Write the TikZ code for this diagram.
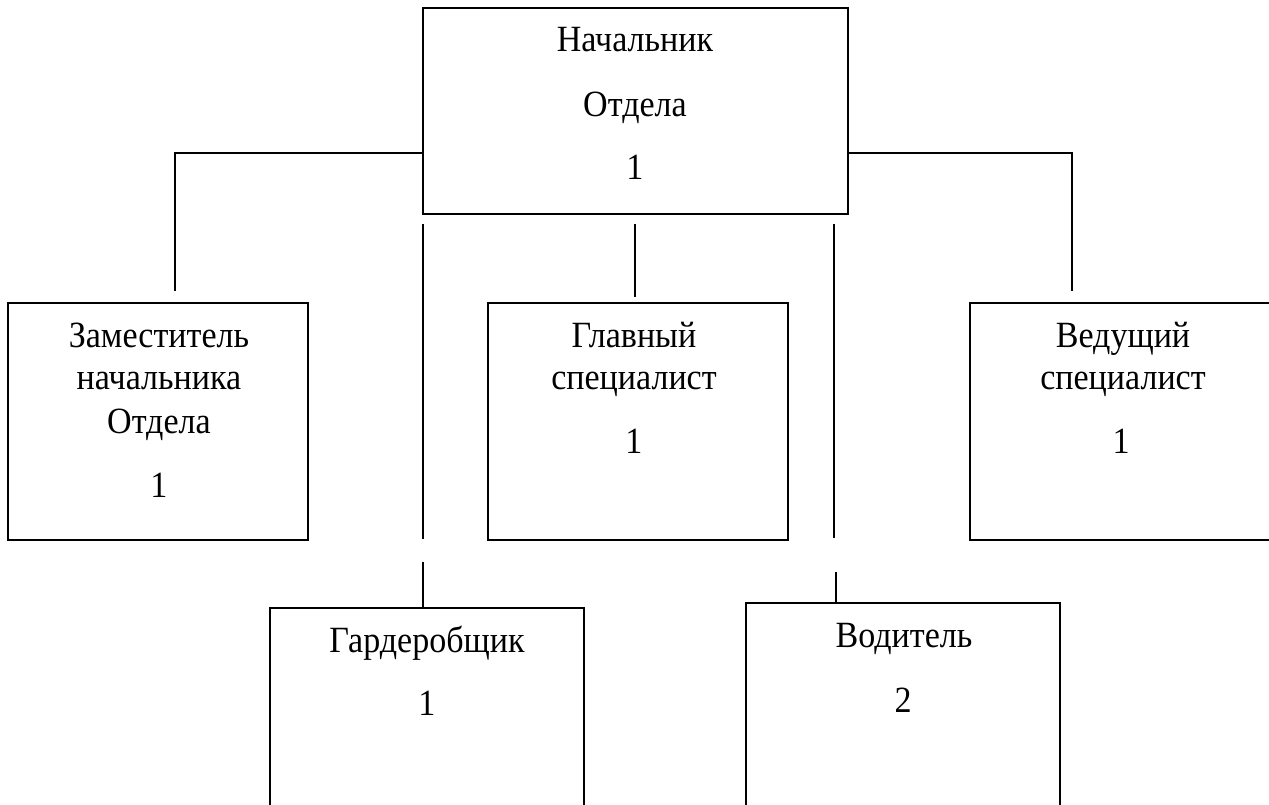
\documentclass[tikz,border=0pt]{standalone}
\usepackage{fontspec}
\setmainfont{Liberation Serif}[FakeStretch=0.92]
\begin{document}
\begin{tikzpicture}[x=1pt,y=-1pt,
  box/.style={draw=black,fill=white,line width=2pt,rectangle,inner sep=0pt,outer sep=0pt},
  conn/.style={draw=black,line width=1.6pt},
  lbl/.style={anchor=base,inner sep=0pt,font=\fontsize{37}{42}\selectfont}]
\useasboundingbox (0,0) rectangle (1269,805);
\clip (0,0) rectangle (1269,805);
\fill[white] (0,0) rectangle (1269,805);
% free-end coordinates
\coordinate (hl) at (175,153);
\coordinate (hr) at (1072,153);
\coordinate (zl) at (175,291);
\coordinate (vr) at (1072,291);
\coordinate (a1) at (423,224);
\coordinate (a2) at (423,539);
\coordinate (a3) at (423,562);
\coordinate (c1) at (635,224);
\coordinate (c2) at (635,297);
\coordinate (b1) at (834,224);
\coordinate (b2) at (834,538);
\coordinate (b3) at (836,572);
% connectors
\draw[conn] (zl) -- (hl) -- (hr) -- (vr);
\draw[conn] (a1) -- (a2);
\draw[conn] (c1) -- (c2);
\draw[conn] (b1) -- (b2);
% boxes
\node[box,minimum width=425pt,minimum height=206pt] (top) at (635.5,111) {};
\node[box,minimum width=300pt,minimum height=237pt] (zam) at (158,421.5) {};
\node[box,minimum width=300pt,minimum height=237pt] (glav) at (638,421.5) {};
\node[box,minimum width=330pt,minimum height=237pt] (ved) at (1135,421.5) {};
\node[box,minimum width=314pt,minimum height=260pt] (gard) at (427,738) {};
\node[box,minimum width=314pt,minimum height=260pt] (vod) at (903,733) {};
\draw[conn] (a3) -- (a3 |- gard.north);
\draw[conn] (b3) -- (b3 |- vod.north);
% labels
\node[lbl] (t1) at (635,52) {Начальник};
\node[lbl] (t2) at (635,117) {Отдела};
\node[lbl] (t3) at (635,180) {1};
\node[lbl] (z1) at (159,347) {Заместитель};
\node[lbl] (z2) at (159,389) {начальника};
\node[lbl] (z3) at (159,433) {Отдела};
\node[lbl] (z4) at (159,497) {1};
\node[lbl] (g1) at (634,347) {Главный};
\node[lbl] (g2) at (634,389) {специалист};
\node[lbl] (g3) at (634,453) {1};
\node[lbl] (v1) at (1123,347) {Ведущий};
\node[lbl] (v2) at (1123,389) {специалист};
\node[lbl] (v3) at (1121,453) {1};
\node[lbl] (d1) at (427,652) {Гардеробщик};
\node[lbl] (d2) at (427,715) {1};
\node[lbl] (w1) at (904,647) {Водитель};
\node[lbl] (w2) at (903,712) {2};
\end{tikzpicture}
\end{document}
